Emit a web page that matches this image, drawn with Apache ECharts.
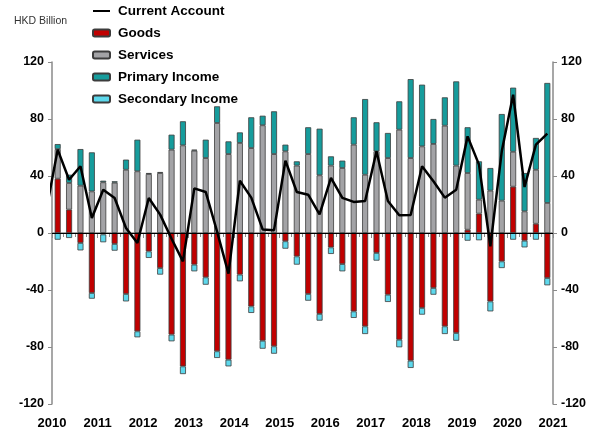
<!DOCTYPE html>
<html>
<head>
<meta charset="utf-8">
<script src="https://cdn.jsdelivr.net/npm/echarts@6/dist/echarts.min.js"></script>
<style>
    html, body { margin: 0; padding: 0; background: #fff; }
    #chart { width: 597px; height: 439px; }
</style>
</head>
<body>
<div id="chart"></div>
<script>
// year labels sit on the year boundaries
var years = ['2010', '2011', '2012', '2013', '2014', '2015', '2016', '2017', '2018', '2019', '2020', '2021'];

// quarters 2010Q1 .. 2020Q4, values in HKD billion
var goods = [38.1, 16.4, -7.0, -42.1, -1.0, -7.7, -42.8, -69.0, -12.9, -24.6, -71.3, -93.6, -22.2, -31.1, -83.0, -88.9,
    -29.2, -51.5, -75.6, -79.5, -5.8, -16.4, -42.8, -56.8, -10.1, -21.8, -55.0, -65.5, -14.0, -43.3, -74.9, -89.6,
    -52.6, -38.6, -65.5, -70.2, 2.3, 13.6, -48.0, -19.9, 32.5, -5.4, 6.5, -31.6];
var services = [20.8, 18.7, 33.2, 29.2, 35.6, 35.3, 44.4, 43.3, 41.4, 42.1, 58.5, 61.5, 57.8, 52.6, 77.2, 55.4,
    63.2, 59.6, 75.6, 55.4, 57.3, 47.3, 55.4, 40.5, 47.3, 45.6, 62.0, 40.9, 57.3, 52.6, 72.5, 52.6,
    60.8, 62.5, 75.3, 47.3, 39.8, 9.8, 29.7, 22.7, 24.5, 15.2, 37.9, 21.1];
var primaryIncome = [3.5, 5.8, 25.7, 27.4, 1.1, 1.0, 7.1, 22.2, 0.7, 0.7, 10.5, 16.9, 0.7, 12.9, 11.7, 8.9,
    7.4, 21.6, 6.7, 30.0, 4.7, 3.0, 18.8, 32.7, 6.5, 5.2, 19.2, 53.1, 20.4, 17.6, 19.9, 55.4,
    43.3, 17.5, 19.9, 59.1, 32.1, 26.9, 15.9, 60.8, 45.0, 26.9, 22.3, 84.2];
var secondaryIncome = [-4.7, -3.5, -5.2, -4.0, -5.5, -4.7, -5.2, -4.2, -4.6, -4.6, -4.7, -5.4, -4.7, -5.2, -4.7, -4.7,
    -4.7, -4.6, -5.6, -5.2, -5.2, -5.8, -4.7, -4.7, -4.6, -5.1, -4.6, -5.4, -5.4, -5.1, -5.3, -5.1,
    -4.7, -4.7, -5.4, -5.4, -5.4, -5.1, -7.0, -4.7, -4.7, -4.7, -4.7, -5.1];
var currentAccount = [58.5, 37.4, 46.8, 10.5, 30.4, 24.6, 3.5, -7.0, 24.6, 12.9, -4.0, -19.9, 31.3, 28.8, 1.0, -28.5,
    36.7, 24.8, 2.5, 2.0, 50.8, 28.8, 26.9, 13.0, 38.7, 24.6, 21.8, 22.4, 57.4, 22.5, 12.4, 12.6,
    46.8, 36.3, 24.8, 30.4, 67.8, 48.0, -9.4, 57.3, 97.0, 32.3, 62.0, 69.7];
// 2009Q4, only its segment up to the axis shows
var currentAccountPrev = 16;

var yTicks = [-120, -80, -40, 0, 40, 80, 120];

window.onload = function () {
    var chart = echarts.init(document.getElementById('chart'));
    var font = "'Liberation Sans', Arial, sans-serif";
    var axisGrey = '#8a8a8a';

    var quarters = [];
    for (var i = 0; i < goods.length; i++) {
        quarters.push(years[Math.floor(i / 4)] + 'Q' + (i % 4 + 1));
    }
    // line sits on the value axis so the piece before 2010 can be clipped
    var caData = [[-0.5, currentAccountPrev]];
    for (i = 0; i < currentAccount.length; i++) {
        caData.push([i + 0.5, currentAccount[i]]);
    }

    var yAxisBase = function (pos) {
        return {
            type: 'value',
            position: pos,
            min: yTicks[0],
            max: yTicks[yTicks.length - 1],
            interval: 40,
            axisLine: {show: true, lineStyle: {color: axisGrey, width: 1.5}},
            axisTick: {show: true, length: 4, lineStyle: {color: axisGrey}},
            splitLine: {show: false},
            axisLabel: {color: '#000', fontWeight: 'bold', fontSize: 12.5, margin: 8, fontFamily: font}
        };
    };

    var barStyle = function (c) {
        return {color: c, borderColor: '#3c3c3c', borderWidth: 0.8};
    };

    var option = {
        animation: false,
        backgroundColor: '#fff',
        textStyle: {fontFamily: font},
        graphic: [{
            type: 'text',
            left: 14,
            top: 16,
            style: {text: 'HKD Billion', font: '10.5px ' + font, fill: '#333'}
        }],
        legend: {
            orient: 'vertical',
            left: 87,
            top: -2,
            itemWidth: 17,
            itemHeight: 7,
            itemGap: 6,
            data: [
                {name: 'Current Account', itemStyle: {opacity: 0}},
                'Goods', 'Services', 'Primary Income', 'Secondary Income'
            ],
            textStyle: {fontSize: 13.5, fontWeight: 'bold', color: '#000', lineHeight: 16, padding: [0, 0, 0, 3], fontFamily: font}
        },
        grid: {left: 52, right: 44, top: 62, bottom: 35},
        xAxis: [
            {type: 'category', data: quarters, boundaryGap: true, show: false},
            {
                type: 'value',
                position: 'bottom',
                min: 0,
                max: quarters.length,
                interval: 4,
                axisLine: {show: true, lineStyle: {color: axisGrey, width: 1.5}},
                axisTick: {show: true, length: 5, lineStyle: {color: axisGrey}},
                minorTick: {show: true, splitNumber: 4, length: 4, lineStyle: {color: axisGrey}},
                splitLine: {show: false},
                axisLabel: {
                    color: '#000', fontWeight: 'bold', fontSize: 13, margin: 13, fontFamily: font,
                    formatter: function (v) { return years[v / 4]; }
                }
            }
        ],
        yAxis: [yAxisBase('left'), yAxisBase('right')],
        series: [
            {name: 'Goods', type: 'bar', stack: 'ca', barWidth: 6, data: goods, itemStyle: barStyle('#c00000')},
            {name: 'Services', type: 'bar', stack: 'ca', barWidth: 6, data: services, itemStyle: barStyle('#a3a3a6')},
            {name: 'Primary Income', type: 'bar', stack: 'ca', barWidth: 6, data: primaryIncome, itemStyle: barStyle('#169c9c')},
            {name: 'Secondary Income', type: 'bar', stack: 'ca', barWidth: 6, data: secondaryIncome, itemStyle: barStyle('#5dd8ec')},
            {
                name: 'Current Account',
                type: 'line',
                xAxisIndex: 1,
                yAxisIndex: 0,
                data: caData,
                symbol: 'none',
                clip: true,
                lineStyle: {color: '#000', width: 2.5},
                itemStyle: {color: '#000'},
                markLine: {
                    silent: true,
                    symbol: 'none',
                    label: {show: false},
                    lineStyle: {color: '#000', width: 1, type: 'solid'},
                    data: [{yAxis: 0}]
                }
            }
        ]
    };
    chart.setOption(option);
};
</script>
</body>
</html>
